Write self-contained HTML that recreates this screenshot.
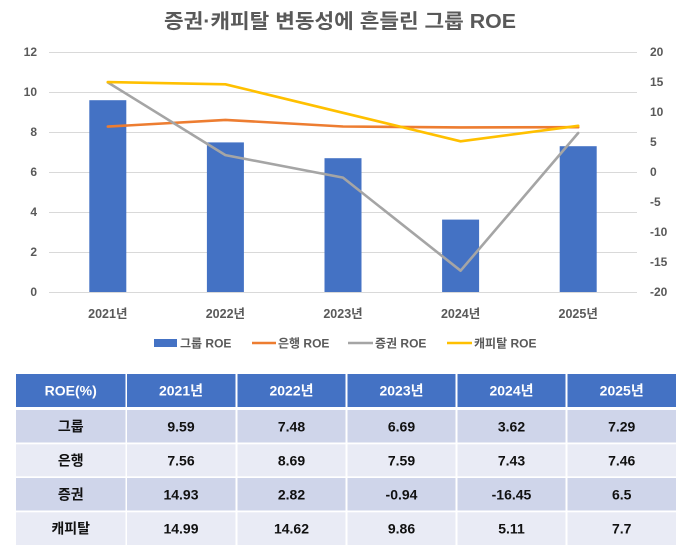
<!DOCTYPE html>
<html>
<head>
<meta charset="utf-8">
<style>
html,body{margin:0;padding:0;background:#fff;}
svg{display:block;}
text{font-family:"Liberation Sans","Noto Sans CJK KR",sans-serif;}
</style>
</head>
<body>
<svg width="680" height="550" viewBox="0 0 680 550" xmlns="http://www.w3.org/2000/svg">
<rect width="680" height="550" fill="#fff"/>
<!-- Title -->
<text x="340" y="28" text-anchor="middle" font-size="20" font-weight="bold" fill="#595959" textLength="352" lengthAdjust="spacingAndGlyphs">증권·캐피탈 변동성에 흔들린 그룹 ROE</text>

<!-- gridlines -->
<g stroke="#D9D9D9" stroke-width="1">
<line x1="49" y1="52.5" x2="637" y2="52.5"/>
<line x1="49" y1="92.5" x2="637" y2="92.5"/>
<line x1="49" y1="132.5" x2="637" y2="132.5"/>
<line x1="49" y1="172.5" x2="637" y2="172.5"/>
<line x1="49" y1="212.5" x2="637" y2="212.5"/>
<line x1="49" y1="252.5" x2="637" y2="252.5"/>
<line x1="49" y1="292.5" x2="637" y2="292.5"/>
</g>

<!-- left axis labels -->
<g font-size="12" font-weight="bold" fill="#595959" text-anchor="end">
<text x="37" y="56">12</text>
<text x="37" y="96">10</text>
<text x="37" y="136">8</text>
<text x="37" y="176">6</text>
<text x="37" y="216">4</text>
<text x="37" y="256">2</text>
<text x="37" y="296">0</text>
</g>
<!-- right axis labels -->
<g font-size="12" font-weight="bold" fill="#595959" text-anchor="start">
<text x="650" y="56">20</text>
<text x="650" y="86">15</text>
<text x="650" y="116">10</text>
<text x="650" y="146">5</text>
<text x="650" y="176">0</text>
<text x="650" y="206">-5</text>
<text x="650" y="236">-10</text>
<text x="650" y="266">-15</text>
<text x="650" y="296">-20</text>
</g>

<!-- bars -->
<g fill="#4472C4">
<rect x="89.3" y="100.2" width="37" height="191.8"/>
<rect x="206.9" y="142.4" width="37" height="149.6"/>
<rect x="324.5" y="158.2" width="37" height="133.8"/>
<rect x="442.1" y="219.6" width="37" height="72.4"/>
<rect x="559.7" y="146.2" width="37" height="145.8"/>
</g>

<!-- lines -->
<g fill="none" stroke-width="2.6" stroke-linejoin="round" stroke-linecap="round">
<polyline stroke="#ED7D31" points="107.8,126.6 225.4,119.9 343,126.5 460.6,127.4 578.2,127.2"/>
<polyline stroke="#A5A5A5" points="107.8,82.4 225.4,155.1 343,177.6 460.6,270.7 578.2,133"/>
<polyline stroke="#FFC000" points="107.8,82.1 225.4,84.3 343,112.8 460.6,141.3 578.2,125.8"/>
</g>

<!-- x labels -->
<g font-size="12.5" font-weight="bold" fill="#595959" text-anchor="middle">
<text x="107.8" y="318">2021년</text>
<text x="225.4" y="318">2022년</text>
<text x="343" y="318">2023년</text>
<text x="460.6" y="318">2024년</text>
<text x="578.2" y="318">2025년</text>
</g>

<!-- legend -->
<rect x="154" y="339" width="23" height="8" fill="#4472C4"/>
<line x1="252" y1="343" x2="276" y2="343" stroke="#ED7D31" stroke-width="2.6"/>
<line x1="348" y1="343" x2="373" y2="343" stroke="#A5A5A5" stroke-width="2.6"/>
<line x1="447" y1="343" x2="472" y2="343" stroke="#FFC000" stroke-width="2.6"/>
<g font-size="12" font-weight="bold" fill="#595959">
<text x="180" y="347.5">그룹 ROE</text>
<text x="278" y="347.5">은행 ROE</text>
<text x="375" y="347.5">증권 ROE</text>
<text x="474" y="347.5">캐피탈 ROE</text>
</g>

<!-- table -->
<g>
<!-- header -->
<rect x="16" y="374" width="109.5" height="33" fill="#4472C4"/>
<rect x="127" y="374" width="108.5" height="33" fill="#4472C4"/>
<rect x="237.5" y="374" width="108" height="33" fill="#4472C4"/>
<rect x="347.5" y="374" width="108" height="33" fill="#4472C4"/>
<rect x="457.5" y="374" width="108" height="33" fill="#4472C4"/>
<rect x="567.5" y="374" width="108.5" height="33" fill="#4472C4"/>
<!-- rows -->
<g fill="#CFD5EA">
<rect x="16" y="410" width="109.5" height="32.5"/>
<rect x="127" y="410" width="108.5" height="32.5"/>
<rect x="237.5" y="410" width="108" height="32.5"/>
<rect x="347.5" y="410" width="108" height="32.5"/>
<rect x="457.5" y="410" width="108" height="32.5"/>
<rect x="567.5" y="410" width="108.5" height="32.5"/>
<rect x="16" y="478" width="109.5" height="32.5"/>
<rect x="127" y="478" width="108.5" height="32.5"/>
<rect x="237.5" y="478" width="108" height="32.5"/>
<rect x="347.5" y="478" width="108" height="32.5"/>
<rect x="457.5" y="478" width="108" height="32.5"/>
<rect x="567.5" y="478" width="108.5" height="32.5"/>
</g>
<g fill="#E9EBF5">
<rect x="16" y="444.3" width="109.5" height="32"/>
<rect x="127" y="444.3" width="108.5" height="32"/>
<rect x="237.5" y="444.3" width="108" height="32"/>
<rect x="347.5" y="444.3" width="108" height="32"/>
<rect x="457.5" y="444.3" width="108" height="32"/>
<rect x="567.5" y="444.3" width="108.5" height="32"/>
<rect x="16" y="512.3" width="109.5" height="32.7"/>
<rect x="127" y="512.3" width="108.5" height="32.7"/>
<rect x="237.5" y="512.3" width="108" height="32.7"/>
<rect x="347.5" y="512.3" width="108" height="32.7"/>
<rect x="457.5" y="512.3" width="108" height="32.7"/>
<rect x="567.5" y="512.3" width="108.5" height="32.7"/>
</g>
<g font-size="14" font-weight="bold" fill="#fff" text-anchor="middle">
<text x="70.7" y="395.5">ROE(%)</text>
<text x="181" y="395.5">2021년</text>
<text x="291.5" y="395.5">2022년</text>
<text x="401.5" y="395.5">2023년</text>
<text x="511.5" y="395.5">2024년</text>
<text x="621.7" y="395.5">2025년</text>
</g>
<g font-size="14" font-weight="bold" fill="#111" text-anchor="middle">
<text x="70.7" y="431.5">그룹</text>
<text x="181" y="431.5">9.59</text>
<text x="291.5" y="431.5">7.48</text>
<text x="401.5" y="431.5">6.69</text>
<text x="511.5" y="431.5">3.62</text>
<text x="621.7" y="431.5">7.29</text>

<text x="70.7" y="465.5">은행</text>
<text x="181" y="465.5">7.56</text>
<text x="291.5" y="465.5">8.69</text>
<text x="401.5" y="465.5">7.59</text>
<text x="511.5" y="465.5">7.43</text>
<text x="621.7" y="465.5">7.46</text>

<text x="70.7" y="499.5">증권</text>
<text x="181" y="499.5">14.93</text>
<text x="291.5" y="499.5">2.82</text>
<text x="401.5" y="499.5">-0.94</text>
<text x="511.5" y="499.5">-16.45</text>
<text x="621.7" y="499.5">6.5</text>

<text x="70.7" y="533.5">캐피탈</text>
<text x="181" y="533.5">14.99</text>
<text x="291.5" y="533.5">14.62</text>
<text x="401.5" y="533.5">9.86</text>
<text x="511.5" y="533.5">5.11</text>
<text x="621.7" y="533.5">7.7</text>
</g>
</g>
</svg>
</body>
</html>
